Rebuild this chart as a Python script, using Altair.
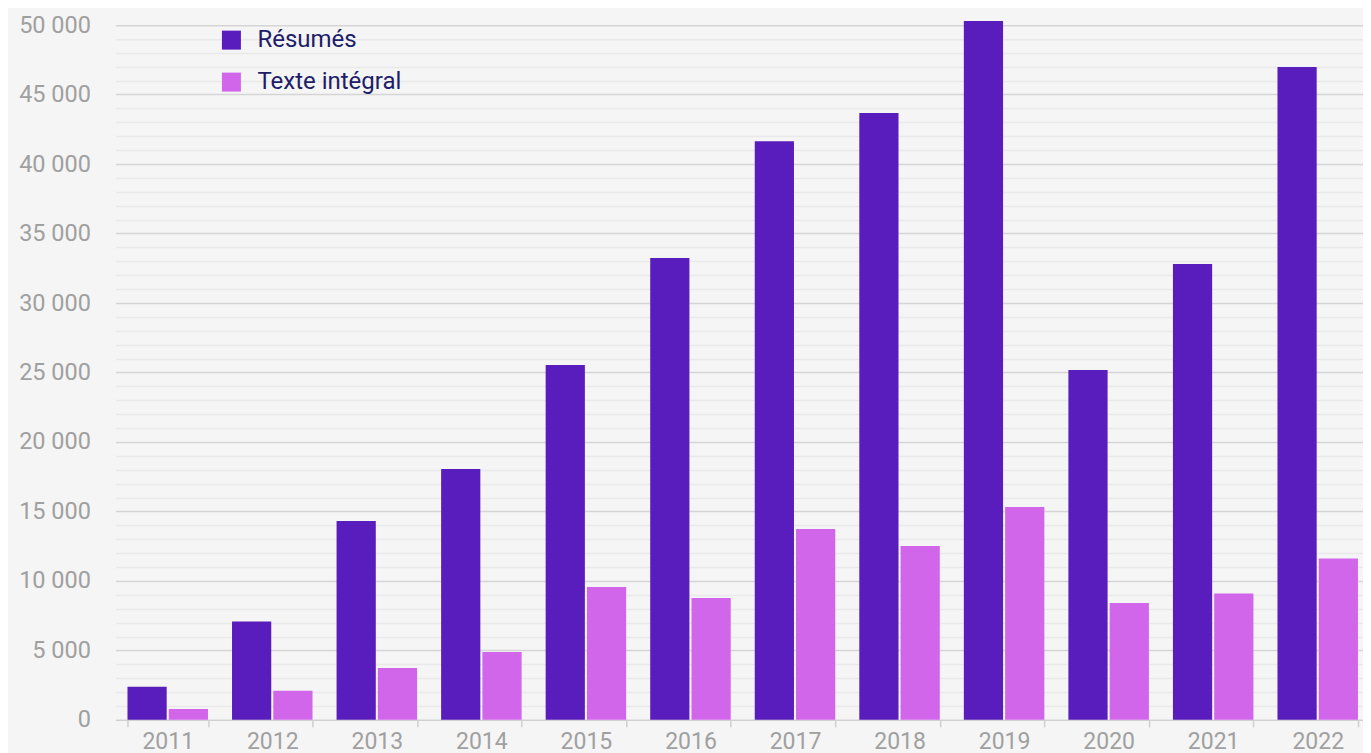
import altair as alt
import pandas as pd

years = ["2011", "2012", "2013", "2014", "2015", "2016", "2017", "2018", "2019", "2020", "2021", "2022"]
resumes = [2380, 7080, 14320, 18060, 25540, 33240, 41650, 43670, 50290, 25180, 32800, 46980]
texte = [790, 2090, 3740, 4890, 9570, 8780, 13740, 12520, 15320, 8420, 9090, 11610]
series = ["Résumés", "Texte intégral"]
colors = ["#5a1dbd", "#d166ea"]
y_ticks = list(range(0, 50001, 1000))

rows = []
for i, yr in enumerate(years):
    rows.append({"year": yr, "serie": series[0], "value": resumes[i]})
    rows.append({"year": yr, "serie": series[1], "value": texte[i]})
df = pd.DataFrame(rows)

font = "Roboto"

chart = alt.Chart(df).mark_bar().encode(
    x=alt.X("year:N", sort=years, title=None,
            scale=alt.Scale(paddingInner=0.23, paddingOuter=0.115),
            axis=alt.Axis(labelAngle=0, tickBand="extent", ticks=True, tickSize=7,
                          tickColor="#cfcfcf", tickWidth=1.5, domainColor="#d0d0d0",
                          domainWidth=1.5, labelPadding=4, labelFontSize=23,
                          labelColor="#a0a0a0", labelFont=font, grid=False)),
    xOffset=alt.XOffset("serie:N", sort=series, scale=alt.Scale(paddingInner=0.05)),
    y=alt.Y("value:Q", title=None,
            scale=alt.Scale(domain=[0, 51223], nice=False),
            axis=alt.Axis(values=y_ticks, ticks=False, domain=False, labelPadding=25,
                          labelFontSize=23.5, labelColor="#a0a0a0", labelFont=font,
                          labelOverlap=False,
                          labelExpr="datum.value % 5000 === 0 ? replace(format(datum.value, ','), ',', ' ') : ''",
                          gridColor={"condition": {"test": "datum.value % 5000 === 0", "value": "#d5d5d5"},
                                     "value": "#e9e9e9"},
                          gridWidth=1.5)),
    color=alt.Color("serie:N", sort=series,
                    scale=alt.Scale(domain=series, range=colors),
                    legend=alt.Legend(title=None, orient="none", legendX=104, legendY=20,
                                      symbolType="square", symbolSize=361, symbolStrokeWidth=0,
                                      labelFontSize=24, labelFont=font, labelColor="#201c6a",
                                      labelOffset=14, rowPadding=18, padding=0)),
).properties(
    width=1255,
    height=712,
    background="#f5f5f5",
    padding={"left": 10.5, "top": 0, "right": -7, "bottom": 0},
).configure_view(stroke=None)

chart.save("out.html", embed_options={"renderer": "svg", "actions": False})
